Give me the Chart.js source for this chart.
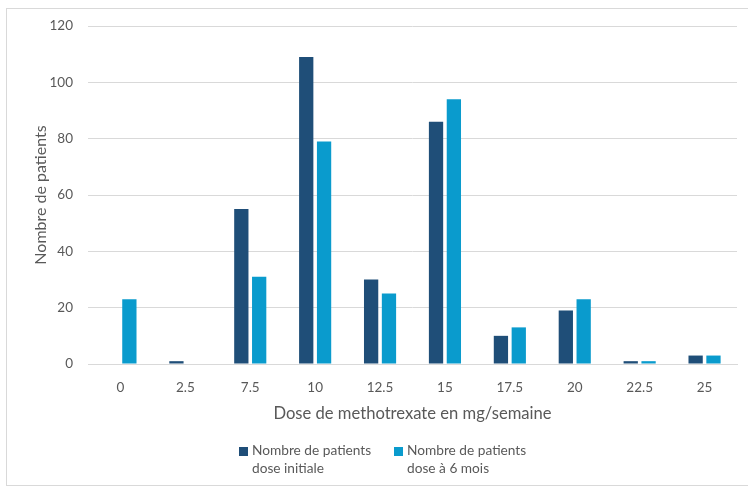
<!DOCTYPE html>
<html>
<head>
<meta charset="utf-8">
<script src="https://cdn.jsdelivr.net/npm/chart.js@4"></script>
<style>
  html, body { margin: 0; padding: 0; background: #fff; }
  #wrap { position: relative; width: 748px; height: 488px; }
  #frame { position: absolute; left: 6px; top: 8px; width: 760px; height: 478px; border: 1px solid #d9d9d9; box-sizing: border-box; }
  canvas { position: absolute; left: 0; top: 0; }
  .leg { position: absolute; top: 441px; font-family: Lato, "Open Sans", sans-serif; font-size: 13.7px; color: #595959; line-height: 18px; }
  .leg .sw { position: absolute; left: 0; top: 6px; width: 9px; height: 9px; }
  .leg .tx { margin-left: 13px; }
</style>
</head>
<body>
<div id="wrap">
  <div id="frame"></div>
  <canvas id="c" width="748" height="488"></canvas>
  <div class="leg" style="left:239px"><div class="sw" style="background:#1F4E78"></div><div class="tx">Nombre de patients<br>dose initiale</div></div>
  <div class="leg" style="left:394px"><div class="sw" style="background:#0A9BCD"></div><div class="tx">Nombre de patients<br>dose à 6 mois</div></div>
</div>
<script>
const categories = ["0", "2.5", "7.5", "10", "12.5", "15", "17.5", "20", "22.5", "25"];
const doseInitiale = [0, 1, 55, 109, 30, 86, 10, 19, 1, 3];
const dose6mois = [23, 0, 31, 79, 25, 94, 13, 23, 1, 3];
const seriesNames = ["Nombre de patients dose initiale", "Nombre de patients dose à 6 mois"];
const yTicks = [0, 20, 40, 60, 80, 100, 120];

const font = { family: "Lato, 'Open Sans', sans-serif", size: 13.5 };
new Chart(document.getElementById('c'), {
  type: 'bar',
  data: {
    labels: categories,
    datasets: [
      { label: seriesNames[0], data: doseInitiale, backgroundColor: '#1F4E78' },
      { label: seriesNames[1], data: dose6mois, backgroundColor: '#0A9BCD' }
    ]
  },
  options: {
    responsive: false,
    animation: false,
    categoryPercentage: 0.55,
    barPercentage: 0.8,
    layout: { padding: { left: 31, top: 26, right: 11, bottom: 60 } },
    plugins: { legend: { display: false }, tooltip: { enabled: false } },
    scales: {
      x: {
        grid: { display: false },
        border: { color: '#d9d9d9' },
        ticks: { color: '#595959', font: font, padding: 8 },
        title: { display: true, text: 'Dose de methotrexate en mg/semaine', color: '#595959', font: { family: font.family, size: 16.6 }, padding: { top: 1 } },
        afterFit: s => { s.height = 64; }
      },
      y: {
        min: 0, max: 120,
        afterBuildTicks: s => { s.ticks = yTicks.map(v => ({ value: v })); },
        grid: { color: '#d9d9d9', drawTicks: false },
        border: { display: false },
        ticks: { color: '#595959', font: font, padding: 15 },
        title: { display: true, text: 'Nombre de patients', color: '#595959', font: { family: font.family, size: 16 }, padding: 0 },
        afterFit: s => { s.width = 57; }
      }
    }
  }
});
</script>
</body>
</html>
